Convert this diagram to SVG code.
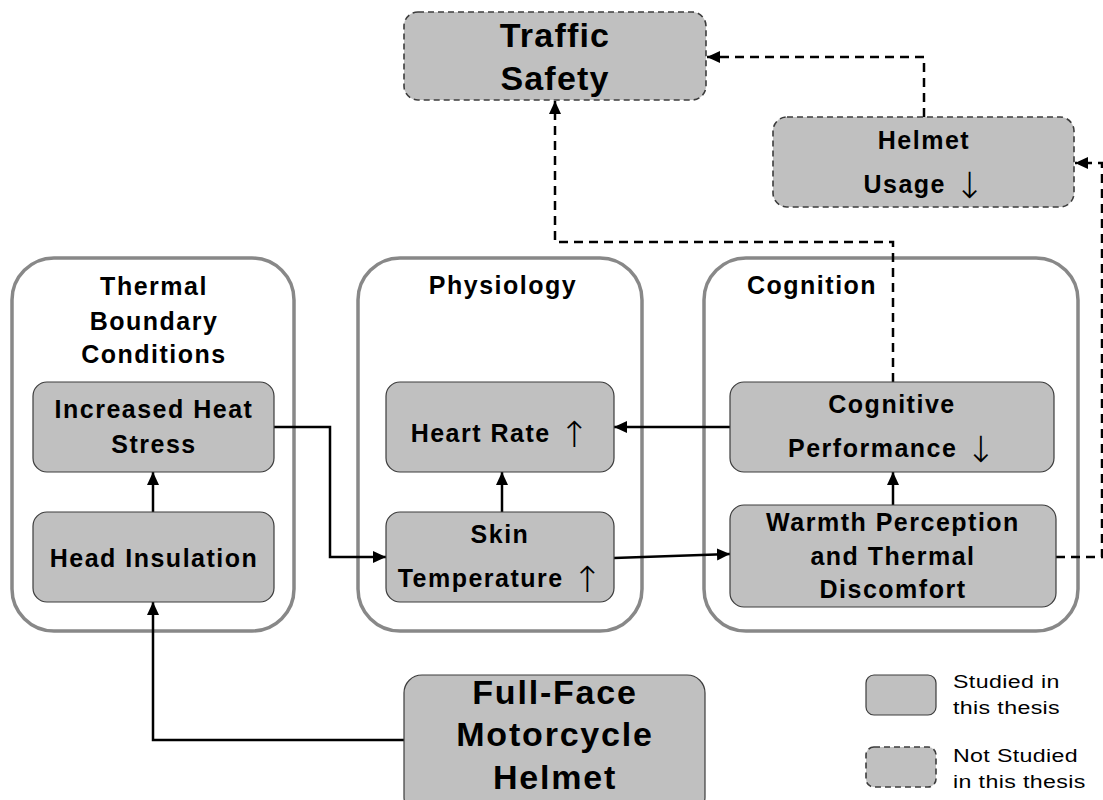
<svg xmlns="http://www.w3.org/2000/svg" width="1103" height="800" viewBox="0 0 1103 800">
<style>
.container{fill:#ffffff;stroke:#888888;stroke-width:3.5}
.node{fill:#c0c0c0;stroke:#3c3c3c;stroke-width:1.2}
.dnode{fill:#c0c0c0;stroke:#3c3c3c;stroke-width:1.6;stroke-dasharray:6 4}
.t{font-family:"Liberation Sans",Arial,sans-serif;font-weight:bold;font-size:25px;letter-spacing:1.5px;fill:#000;text-anchor:middle}
.big{font-size:34px;letter-spacing:1.2px}
.arr{font-family:"DejaVu Sans",sans-serif;font-weight:200;font-size:36px;letter-spacing:0}
.lg{font-family:"Liberation Sans",Arial,sans-serif;font-size:19px;letter-spacing:0.3px;fill:#000}
.c{fill:none;stroke:#000;stroke-width:2.5}
.cs{marker-end:url(#ah)}
.dash{stroke-dasharray:9 6}
</style>
<defs>
<marker id="ah" markerUnits="userSpaceOnUse" markerWidth="14" markerHeight="14" viewBox="0 0 14 14" refX="13" refY="7" orient="auto">
<path d="M0,1 L13,7 L0,13 Z" fill="#000"/>
</marker>
</defs>

<g id="container-thermal">
<rect class="container" x="12" y="258" width="282" height="373" rx="42"/>
<text class="t" x="154" y="295">Thermal</text>
<text class="t" x="154" y="330">Boundary</text>
<text class="t" x="154" y="363">Conditions</text>
</g>
<g id="container-physiology">
<rect class="container" x="358" y="258" width="284" height="373" rx="42"/>
<text class="t" x="503" y="294">Physiology</text>
</g>
<g id="container-cognition">
<rect class="container" x="704" y="258" width="374" height="373" rx="42"/>
<text class="t" x="747" y="294" style="text-anchor:start">Cognition</text>
</g>

<g id="connectors">
<path class="c cs" d="M404,740 H153 V602"/>
<path class="c cs" d="M153,512 V472"/>
<path class="c cs" d="M274,427 H330 V557 H386"/>
<path class="c cs" d="M502,512 V472"/>
<path class="c cs" d="M614,558 L730,554"/>
<path class="c cs" d="M893,505 V472"/>
<path class="c cs" d="M730,427 H614"/>
<path class="c dash cs" d="M893,382 V242 H555 V101"/>
<path class="c dash cs" d="M1056,557 H1102 V163 H1075"/>
<path class="c dash cs" d="M924,117 V57 H707"/>
</g>

<g id="traffic-safety">
<rect class="dnode" x="404" y="12" width="302" height="88" rx="14"/>
<text class="t big" x="555" y="47">Traffic</text>
<text class="t big" x="555" y="90">Safety</text>
</g>
<g id="helmet-usage">
<rect class="dnode" x="773" y="117" width="301" height="90" rx="14"/>
<text class="t" x="924" y="193">Usage <tspan class="arr" dy="5">↓</tspan></text>
<text class="t" x="924" y="149">Helmet</text>
</g>
<g id="increased-heat-stress">
<rect class="node" x="33" y="382" width="241" height="90" rx="14"/>
<text class="t" x="154" y="418">Increased Heat</text>
<text class="t" x="154" y="453">Stress</text>
</g>
<g id="head-insulation">
<rect class="node" x="33" y="512" width="241" height="90" rx="14"/>
<text class="t" x="154" y="567">Head Insulation</text>
</g>
<g id="heart-rate">
<rect class="node" x="386" y="382" width="228" height="90" rx="14"/>
<text class="t" x="500" y="442">Heart Rate <tspan class="arr" dy="5">↑</tspan></text>
</g>
<g id="skin-temperature">
<rect class="node" x="386" y="512" width="228" height="90" rx="14"/>
<text class="t" x="500" y="543">Skin</text>
<text class="t" x="500" y="587">Temperature <tspan class="arr" dy="5">↑</tspan></text>
</g>
<g id="cognitive-performance">
<rect class="node" x="730" y="382" width="324" height="90" rx="14"/>
<text class="t" x="892" y="413">Cognitive</text>
<text class="t" x="892" y="457">Performance <tspan class="arr" dy="5">↓</tspan></text>
</g>
<g id="warmth-perception">
<rect class="node" x="730" y="505" width="326" height="102" rx="14"/>
<text class="t" x="893" y="531">Warmth Perception</text>
<text class="t" x="893" y="565">and Thermal</text>
<text class="t" x="893" y="598">Discomfort</text>
</g>
<g id="full-face-helmet">
<rect class="node" x="404" y="675" width="301" height="140" rx="18"/>
<text class="t big" x="555" y="704" style="letter-spacing:1.8px">Full-Face</text>
<text class="t big" x="555" y="746" style="letter-spacing:1.8px">Motorcycle</text>
<text class="t big" x="555" y="789" style="letter-spacing:1.8px">Helmet</text>
</g>
<g id="legend">
<rect class="node" x="866" y="675" width="70" height="40" rx="8"/>
<text class="lg" transform="translate(953,688) scale(1.22,1)">Studied in</text>
<text class="lg" transform="translate(953,714) scale(1.22,1)">this thesis</text>
<rect class="dnode" x="866" y="747" width="70" height="40" rx="8"/>
<text class="lg" transform="translate(953,762) scale(1.22,1)">Not Studied</text>
<text class="lg" transform="translate(953,788) scale(1.22,1)">in this thesis</text>
</g>
</svg>
